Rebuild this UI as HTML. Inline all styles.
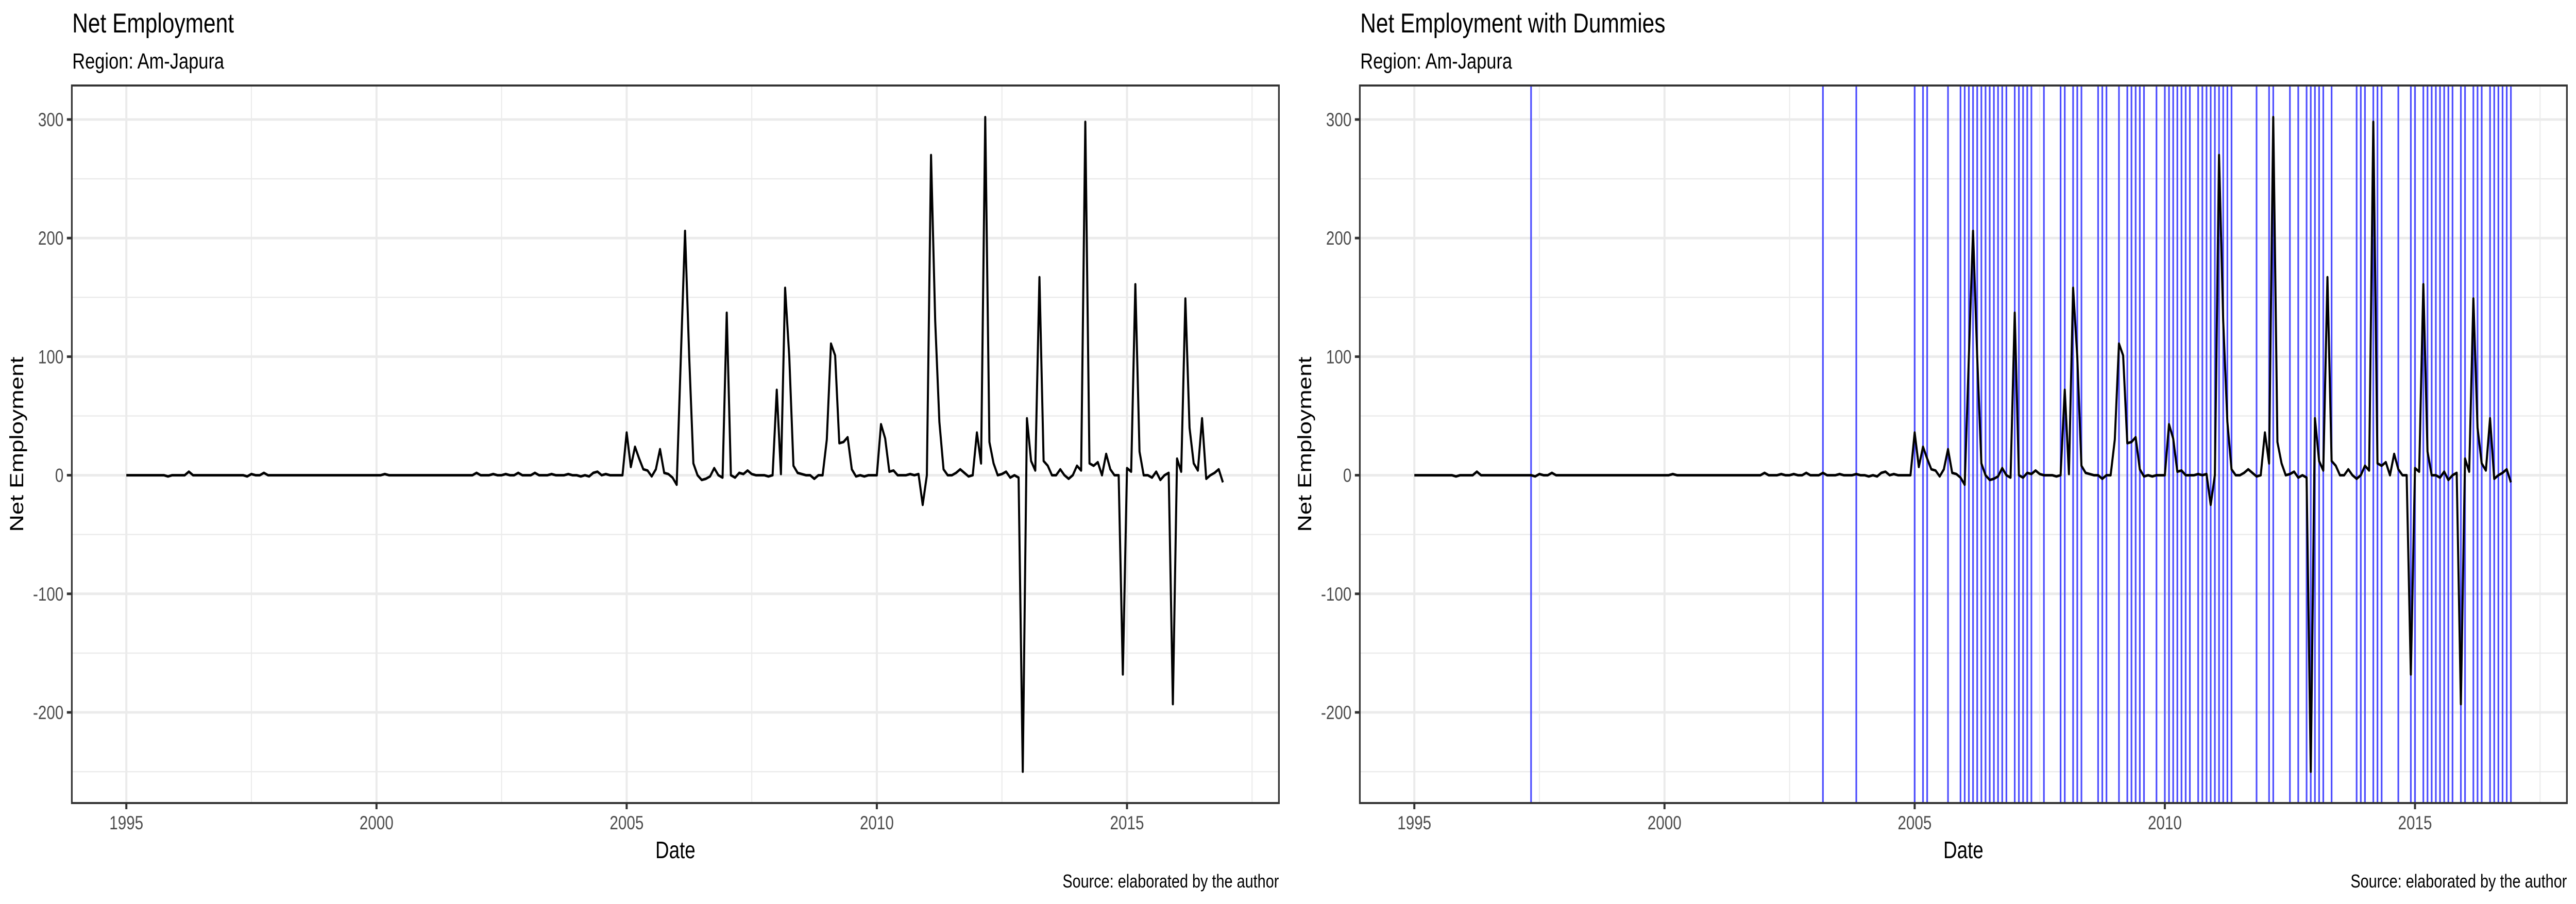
<!DOCTYPE html>
<html><head><meta charset="utf-8"><style>
html,body{margin:0;padding:0;background:#fff;overflow:hidden;width:100vw;height:100vh;}
svg{display:block;font-family:"Liberation Sans",Arial,sans-serif;width:100vw;height:100vh;}
</style></head>
<body>
<svg id="chart" viewBox="0 0 6240 1755" preserveAspectRatio="none" xmlns="http://www.w3.org/2000/svg"></svg>
<script>
// ---- data ----
const yearTicks = [1995, 2000, 2005, 2010, 2015];
const yTicks = [-200, -100, 0, 100, 200, 300];
const startYear = 1995;
// monthly net employment 1995-01 .. 2004-12 (mostly zero)
const values1995to2004 = [
 0,0,0,0,0,0,0,0,0,0,-1,0,
 0,0,0,3,0,0,0,0,0,0,0,0,
 0,0,0,0,0,-1,1,0,0,2,0,0,
 0,0,0,0,0,0,0,0,0,0,0,0,
 0,0,0,0,0,0,0,0,0,0,0,0,
 0,0,1,0,0,0,0,0,0,0,0,0,
 0,0,0,0,0,0,0,0,0,0,0,0,
 2,0,0,0,1,0,0,1,0,0,2,0,
 0,0,2,0,0,0,1,0,0,0,1,0,
 0,-1,0,-1,2,3,0,1,0,0,0,0
];
// monthly net employment 2005-01 .. 2016-12
const values2005to2016 = [
 36,7,24,14,5,4,-1,5,22,2,1,-2,
 -8,100,206,100,10,0,-4,-3,-1,6,0,-2,
 137,0,-2,2,1,4,1,0,0,0,-1,0,
 72,1,158,100,8,2,1,0,0,-3,0,0,
 30,111,101,27,28,32,5,-1,0,-1,0,0,
 0,43,31,3,4,0,0,0,1,0,1,-25,
 0,270,130,45,5,0,0,2,5,2,-1,0,
 36,10,302,28,10,0,1,3,-2,0,-2,-250,
 48,12,4,167,12,8,0,0,5,0,-3,0,
 8,4,298,10,8,11,0,18,5,0,0,-168,
 6,3,161,20,0,0,-2,3,-4,0,2,-193,
 14,3,149,40,10,4,48,-3,0,2,5,-6
];
const values = values1995to2004.concat(values2005to2016);
// dummy months (index of months since 1995-01)
const dummyMonths = [28,98,106,120,122,123,128,131,132,133,134,135,136,137,138,139,140,141,142,144,145,146,147,148,151,155,156,158,159,160,164,165,166,169,171,172,173,174,175,178,180,181,182,183,184,185,186,188,189,190,191,192,193,194,195,196,202,205,206,210,212,214,215,216,217,218,220,226,227,228,230,231,232,236,239,240,242,243,244,245,246,247,248,249,251,252,254,255,256,258,259,260,261,262,263];

const NS = "http://www.w3.org/2000/svg";
const svg = document.getElementById('chart');
function mk(tag, attrs, parent){const e=document.createElementNS(NS,tag);for(const k in attrs)e.setAttribute(k,attrs[k]);(parent||svg).appendChild(e);return e;}

// axis geometry
const PL=174, PR=3098, PT=166, PB=1559;
const X1995=306, PX_PER_YEAR=121.2;
const Y0=922.6, PX_PER_UNIT=2.302;
function xScale(yearFrac){return X1995+(yearFrac-1995)*PX_PER_YEAR;}
function xMonth(i){return xScale(startYear+i/12);}
function yScale(v){return Y0-v*PX_PER_UNIT;}

function drawPanel(off, title, withDummies){
  const g = mk('g',{transform:'translate('+off+',0)'});
  
  
  for(let v=-250; v<=300; v+=100){
    const l=mk('line',{x1:PL,x2:PR,y1:yScale(v),y2:yScale(v),stroke:'#ebebeb','stroke-width':2.5},g);
    
    
  }
  for(let yr=1992.5; yr<=2018; yr+=5){
    const x=xScale(yr); if(x<PL||x>PR) continue;
    const l=mk('line',{x1:x,x2:x,y1:PT,y2:PB,stroke:'#ebebeb','stroke-width':2.5},g);
    
    
  }
  yTicks.forEach(v=>{
    const l=mk('line',{x1:PL,x2:PR,y1:yScale(v),y2:yScale(v),stroke:'#ebebeb','stroke-width':5},g);
    
    
  });
  yearTicks.forEach(yr=>{
    const l=mk('line',{x1:xScale(yr),x2:xScale(yr),y1:PT,y2:PB,stroke:'#ebebeb','stroke-width':5},g);
    
    
  });
  if(withDummies){
    dummyMonths.forEach(m=>{
      const l=mk('line',{x1:xMonth(m),x2:xMonth(m),y1:PT,y2:PB,stroke:'#4d4dff','stroke-width':4},g);
      
      
    });
  }
  const pts = values.map((v,i)=>xMonth(i).toFixed(1)+','+yScale(v).toFixed(1)).join(' ');
  const pl=mk('polyline',{points:pts,fill:'none',stroke:'#000','stroke-width':5,'stroke-linejoin':'round'},g);
  
  
  const b=mk('rect',{x:PL,y:PT,width:PR-PL,height:PB-PT,fill:'none',stroke:'#333','stroke-width':4},g);
  
  
  yTicks.forEach(v=>{
    const t=mk('line',{x1:PL-12,x2:PL,y1:yScale(v),y2:yScale(v),stroke:'#333','stroke-width':5},g);
    
    
    const tx=mk('text',{x:PL-20,y:yScale(v)+13,'text-anchor':'end','font-size':37,fill:'#4d4d4d'},g);
    tx.textContent=v;
    
    
  });
  yearTicks.forEach(yr=>{
    const t=mk('line',{x1:xScale(yr),x2:xScale(yr),y1:PB,y2:PB+12,stroke:'#333','stroke-width':5},g);
    
    
    const tx=mk('text',{x:xScale(yr),y:1610,'text-anchor':'middle','font-size':37,fill:'#4d4d4d'},g);
    tx.textContent=yr;
    
    
  });
  const tt=mk('text',{x:175,y:63,'font-size':53,fill:'#000'},g); tt.textContent=title;
   
  const st=mk('text',{x:175,y:133,'font-size':43,fill:'#000'},g); st.textContent='Region: Am-Japura';
   
  const xt=mk('text',{x:(PL+PR)/2,y:1666,'text-anchor':'middle','font-size':46,fill:'#000'},g); xt.textContent='Date';
   
  const yt=mk('text',{x:0,y:0,'text-anchor':'middle','font-size':46,fill:'#000',transform:'translate(56,'+((PT+PB)/2)+') rotate(-90)'},g); yt.textContent='Net Employment';
   
  const cp=mk('text',{x:PR,y:1723,'text-anchor':'end','font-size':36,fill:'#000'},g); cp.textContent='Source: elaborated by the author';
   
}
drawPanel(0,'Net Employment',false);
drawPanel(3120,'Net Employment with Dummies',true);
</script>
</body></html>
